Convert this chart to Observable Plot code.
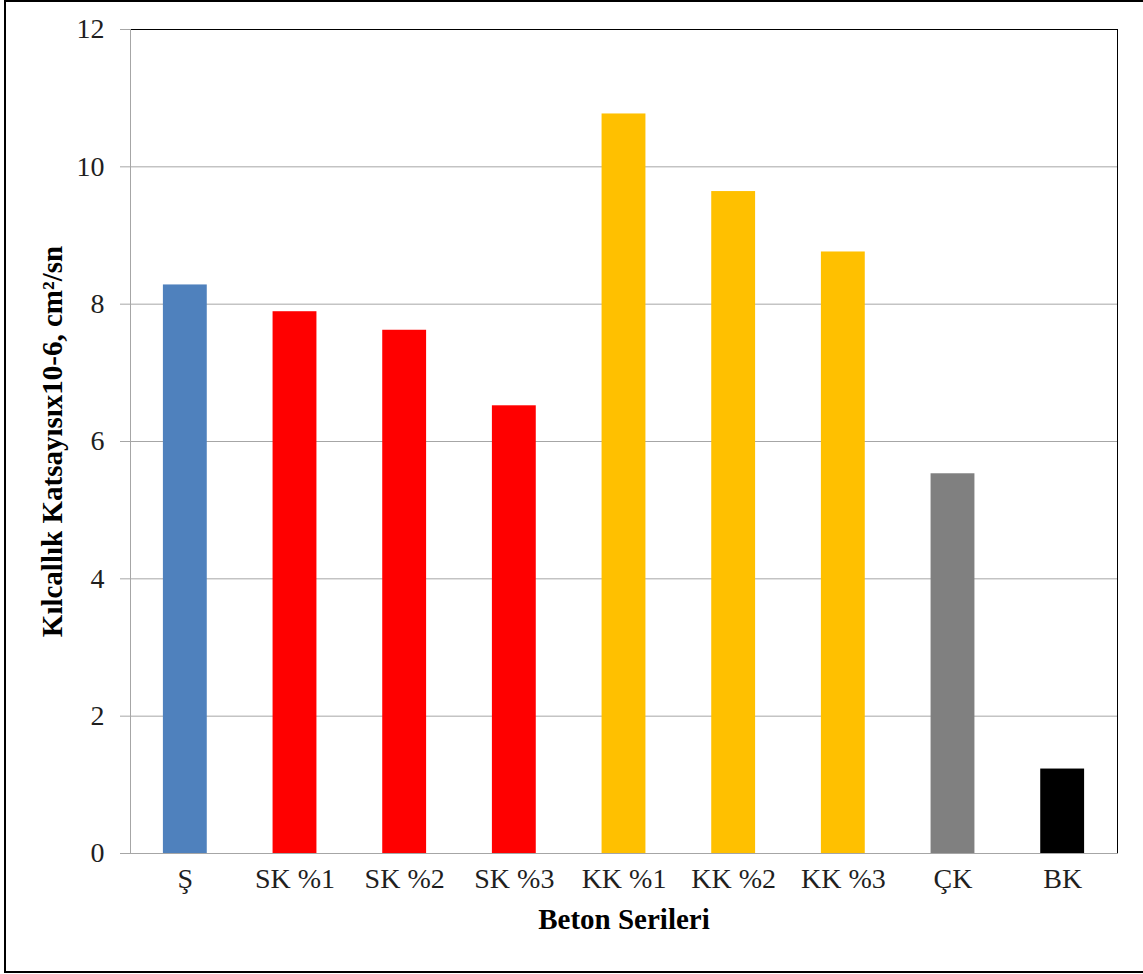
<!DOCTYPE html>
<html>
<head>
<meta charset="utf-8">
<script src="https://cdn.jsdelivr.net/npm/d3@7"></script>
<script src="https://cdn.jsdelivr.net/npm/@observablehq/plot@0.6"></script>
<style>
  html, body { margin: 0; padding: 0; background: #fff; overflow: hidden; }
  #chart { position: relative; width: 1143px; height: 974px; }
  #border { position: absolute; left: 4px; top: 0; width: 1160px; height: 973px;
            border: 2px solid #000; box-sizing: border-box; pointer-events: none; }
</style>
</head>
<body>
<div id="chart"><div id="border"></div></div>
<script>
// Concrete series and their capillarity coefficients (x10^-6 cm²/s)
const categories = ["Ş", "SK %1", "SK %2", "SK %3", "KK %1", "KK %2", "KK %3", "ÇK", "BK"];
const values = [8.28, 7.89, 7.62, 6.52, 10.77, 9.64, 8.76, 5.53, 1.23];
const barColors = ["#4f81bd", "#ff0000", "#ff0000", "#ff0000", "#ffc000", "#ffc000", "#ffc000", "#808080", "#000000"];
const yTicks = [0, 2, 4, 6, 8, 10, 12];
const xTitle = ["Beton Serileri"];
const yTitle = ["Kılcallık Katsayısıx10-6, cm²/sn"];

const rows = categories.map((c, i) => ({ category: c, value: values[i], color: barColors[i] }));

const gridColor = "#a6a6a6";

const chart = Plot.plot({
  width: 1143,
  height: 974,
  marginLeft: 130,
  marginRight: 26,
  marginTop: 29,
  marginBottom: 121,
  style: {
    fontFamily: "'Liberation Serif', 'Times New Roman', serif",
    fontSize: "28px",
    color: "#1f1f1f",
    background: "transparent"
  },
  x: { domain: categories, paddingInner: 0.6, paddingOuter: 0.3, align: 0.5, round: false, label: null },
  y: { domain: [0, 12], ticks: yTicks, label: null },
  color: { type: "identity" },
  marks: [
    Plot.gridY(yTicks, { stroke: gridColor, strokeOpacity: 1 }),
    Plot.barY(rows, { x: "category", y: "value", fill: "color" }),
    Plot.frame({ stroke: "#000" }),
    Plot.frame({ anchor: "left", stroke: gridColor }),
    Plot.frame({ anchor: "bottom", stroke: gridColor }),
    Plot.axisY(yTicks, { tickSize: 10, tickPadding: 16, tickFormat: d => String(d),
                         stroke: gridColor, fill: "#1f1f1f", label: null }),
    Plot.axisX({ tickSize: 0, tickPadding: 15, fill: "#1f1f1f", label: null }),
    Plot.text(yTitle, { text: d => d, frameAnchor: "left", textAnchor: "middle", dx: -78, rotate: -90,
                        fontWeight: "bold", fontSize: 29, fill: "#000" }),
    Plot.text(xTitle, { text: d => d, frameAnchor: "bottom", dy: 75,
                        fontWeight: "bold", fontSize: 29, fill: "#000" })
  ]
});

document.getElementById("chart").prepend(chart);
</script>
</body>
</html>
